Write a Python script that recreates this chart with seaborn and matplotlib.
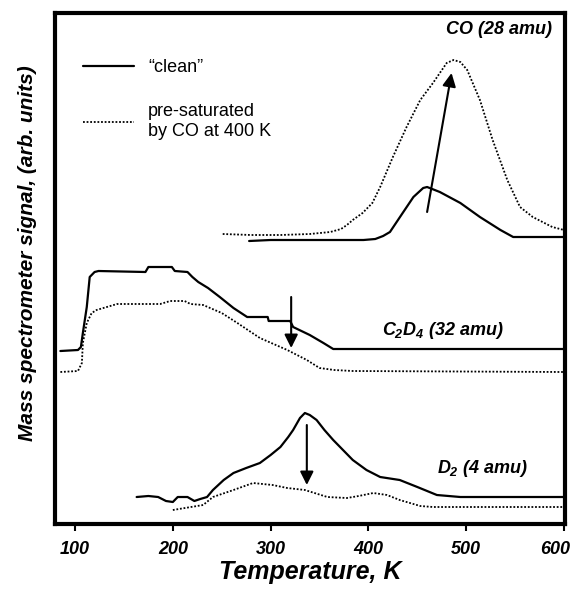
import matplotlib
matplotlib.use('Agg')
import matplotlib.pyplot as plt
import matplotlib.transforms as mtransforms
import seaborn as sns

# temperature (K) and signal (arb. units)
co_clean_T = [278, 300, 330, 360, 395, 407, 415, 422, 435, 446, 456, 460, 473, 494, 514, 535, 548, 600]
co_clean_y = [283, 284, 284, 284, 284, 285, 288, 292, 311, 327, 336, 337, 332, 321, 307, 294, 287, 287]
co_sat_T = [251, 280, 310, 340, 361, 372, 378, 384, 394, 404, 412, 425, 439, 453, 466, 480, 487,
            494, 501, 514, 527, 542, 555, 568, 588, 600]
co_sat_y = [290, 289, 289, 290, 292, 295, 299, 304, 311, 321, 337, 367, 397, 424, 441, 461, 464,
            462, 454, 424, 384, 344, 317, 307, 297, 294]

c2d4_clean_T = [85, 103, 106, 108, 112, 115, 120, 124, 172, 175, 199, 202, 215, 220, 226, 236, 248,
                262, 276, 297, 298, 320, 323, 340, 354, 364, 600]
c2d4_clean_y = [173, 174, 177, 191, 217, 247, 252, 253, 252, 257, 257, 253, 252, 247, 242, 236, 227,
                216, 207, 207, 203, 203, 197, 189, 181, 175, 175]
c2d4_sat_T = [85, 103, 107, 108, 112, 117, 122, 136, 143, 187, 194, 197, 212, 218, 231, 250, 266,
              289, 317, 337, 350, 365, 384, 600]
c2d4_sat_y = [152, 153, 161, 181, 201, 211, 214, 218, 220, 220, 222, 223, 223, 220, 219, 211, 201,
              186, 174, 164, 156, 154, 153, 152]

d2_clean_T = [163, 175, 185, 193, 200, 205, 215, 222, 228, 235, 241, 252, 262, 275, 289, 300, 310,
              318, 323, 330, 335, 340, 347, 355, 364, 375, 384, 398, 412, 432, 450, 470, 494, 600]
d2_clean_y = [27, 28, 27, 23, 22, 27, 27, 23, 25, 27, 34, 44, 51, 56, 61, 69, 77,
              87, 94, 106, 111, 109, 104, 94, 84, 73, 64, 54, 47, 44, 37, 29, 27, 27]
d2_sat_T = [200, 231, 241, 262, 282, 302, 317, 335, 358, 378, 390, 405, 419, 432, 453, 466, 600]
d2_sat_y = [14, 19, 27, 34, 41, 39, 36, 34, 27, 26, 28, 31, 29, 24, 18, 17, 17]

xticks = [100, 200, 300, 400, 500, 600]

sns.set_style('ticks')
plt.rcParams['font.family'] = ['Liberation Sans', 'DejaVu Sans']
plt.rcParams['text.color'] = 'black'
plt.rcParams['axes.labelcolor'] = 'black'
plt.rcParams['xtick.color'] = 'black'
plt.rcParams['mathtext.fontset'] = 'custom'
plt.rcParams['mathtext.rm'] = 'Liberation Sans:italic:bold'
plt.rcParams['mathtext.it'] = 'Liberation Sans:italic:bold'
plt.rcParams['mathtext.bf'] = 'Liberation Sans:italic:bold'

fig = plt.figure(figsize=(5.71, 5.99), dpi=100)
ax = fig.add_axes([0.0963, 0.1252, 0.8932, 0.8531])

solid = dict(color='black', lw=1.6)
dotted = dict(color='black', lw=1.3, linestyle=(0, (1, 1)))

sns.lineplot(x=co_clean_T, y=co_clean_y, ax=ax, label='\u201cclean\u201d', **solid)
sns.lineplot(x=co_sat_T, y=co_sat_y, ax=ax, label='pre-saturated\nby CO at 400 K', **dotted)
sns.lineplot(x=c2d4_clean_T, y=c2d4_clean_y, ax=ax, **solid)
sns.lineplot(x=c2d4_sat_T, y=c2d4_sat_y, ax=ax, **dotted)
sns.lineplot(x=d2_clean_T, y=d2_clean_y, ax=ax, **solid)
sns.lineplot(x=d2_sat_T, y=d2_sat_y, ax=ax, **dotted)

# arrows showing the change after CO pre-saturation
arrow = dict(arrowstyle='-|>', color='black', lw=1.5, mutation_scale=20, shrinkA=0, shrinkB=0)
ax.annotate('', xy=(485, 451), xytext=(460, 312), arrowprops=arrow)
ax.annotate('', xy=(321, 176), xytext=(321, 227), arrowprops=arrow)
ax.annotate('', xy=(337, 39), xytext=(337, 99), arrowprops=arrow)

lab = dict(fontsize=13, fontweight='bold', fontstyle='italic', ha='center', va='center')
ax.text(533, 494, 'CO (28 amu)', **lab)
ax.text(476, 194, r'$C_2D_4$ (32 amu)', **lab)
ax.text(517, 56, r'$D_2$ (4 amu)', **lab)

ax.set_xlim(79.5, 601)
ax.set_ylim(0, 511)
ax.set_xticks(xticks)
ax.set_xticklabels([str(t) for t in xticks], fontsize=13, fontweight='bold', fontstyle='italic')
ax.set_yticks([])
ax.tick_params(axis='x', direction='out', length=5, width=1.5, pad=7, color='black')
# last label sits a bit left of its tick so it stays inside the figure
last = ax.get_xticklabels()[-1]
last.set_transform(last.get_transform() + mtransforms.ScaledTranslation(-9 / 100, 0, fig.dpi_scale_trans))
for s in ax.spines.values():
    s.set_visible(True)
    s.set_linewidth(3)
    s.set_color('black')

ax.set_xlabel('Temperature, K', fontsize=18, fontweight='bold', fontstyle='italic', labelpad=2)
ax.set_ylabel('Mass spectrometer signal, (arb. units)', fontsize=15, fontweight='bold',
              fontstyle='italic')
ax.yaxis.set_label_coords(-0.035, 0.53)

ax.legend(loc='upper left', bbox_to_anchor=(0.055, 0.91), frameon=False, fontsize=13,
          handlelength=2.8, handletextpad=0.8, labelspacing=1.5, borderpad=0, borderaxespad=0)

plt.savefig('out.png', dpi=100)
